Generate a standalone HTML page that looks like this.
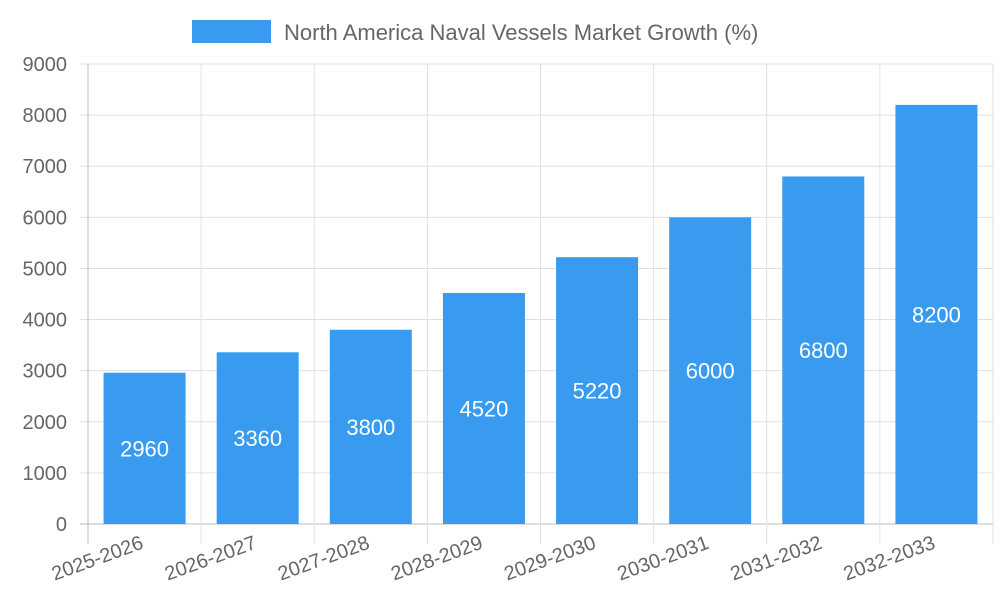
<!DOCTYPE html>
<html><head><meta charset="utf-8"><style>
html,body{margin:0;padding:0;background:#fff;}
svg{display:block;font-family:"Liberation Sans",sans-serif;}
</style></head><body>
<svg id="chart" width="1000" height="600">
<g>
<rect x="192" y="20" width="79" height="23" fill="#399bf0"></rect>
<text x="284" y="40" font-size="22" fill="#666">North America Naval Vessels Market Growth (%)</text>
</g>
<g id="grid"></g><g id="bars"></g><g id="labels"></g>
</svg>
<script>
const categories=["2025-2026","2026-2027","2027-2028","2028-2029","2029-2030","2030-2031","2031-2032","2032-2033"];
const values=[2960,3360,3800,4520,5220,6000,6800,8200];
const yTicks=[0,1000,2000,3000,4000,5000,6000,7000,8000,9000];
const NS="http://www.w3.org/2000/svg";
const L=88,R=993,T=64,B=524,yMax=9000;
const bw=(R-L)/categories.length;
const y=v=>B-(v/yMax)*(B-T);
const x=i=>L+bw*i;
function mk(tag,attrs,parent,text){const e=document.createElementNS(NS,tag);for(const k in attrs)e.setAttribute(k,attrs[k]);if(text!==undefined)e.textContent=text;parent.appendChild(e);return e;}
const grid=document.getElementById('grid'),bars=document.getElementById('bars'),labels=document.getElementById('labels');
yTicks.forEach(t=>{
const ln=mk('line',{x1:L-8,x2:R,y1:y(t),y2:y(t),stroke:t===0?'#bbb':'#e0e0e0','stroke-width':1},grid);


const tx=mk('text',{x:L-21,y:y(t)+7,'text-anchor':'end','font-size':20,fill:'#666'},grid,String(t));


});
for(let i=0;i<=categories.length;i++){
const ln=mk('line',{x1:x(i),x2:x(i),y1:T,y2:B+20,stroke:i===0?'#bbb':'#e0e0e0','stroke-width':1},grid);


}
categories.forEach((c,i)=>{
const cx=x(i)+bw/2,w=82;
const r=mk('rect',{x:cx-w/2,y:y(values[i]),width:w,height:B-y(values[i]),fill:'#399bf0'},bars);


const v=mk('text',{x:cx,y:(y(values[i])+B)/2+8,'text-anchor':'middle','font-size':22,fill:'#fff'},labels,String(values[i]));


const t=mk('text',{x:cx,y:548,'text-anchor':'end','font-size':20,fill:'#666',transform:`rotate(-20 ${cx} 548)`},labels,c);


});
</script>
</body></html>
